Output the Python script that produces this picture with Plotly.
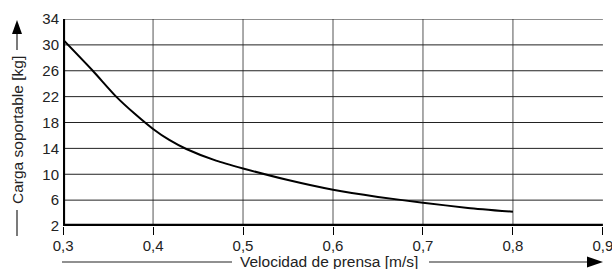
import plotly.graph_objects as go

# Data
velocidad = [0.30, 0.333, 0.359, 0.38, 0.40, 0.418, 0.437, 0.47, 0.50, 0.55, 0.60, 0.65, 0.70, 0.75, 0.80]
carga = [30.8, 26.0, 22.0, 19.3, 17.0, 15.3, 13.9, 12.1, 10.9, 9.1, 7.6, 6.5, 5.6, 4.8, 4.2]
x_ticks = [0.3, 0.4, 0.5, 0.6, 0.7, 0.8, 0.9]
x_ticktext = ["0,3", "0,4", "0,5", "0,6", "0,7", "0,8", "0,9"]
y_ticks = [2, 6, 10, 14, 18, 22, 26, 30, 34]
x_grid = [0.4, 0.5, 0.6, 0.7, 0.8]
y_grid = [6, 10, 14, 18, 22, 26, 30, 34]

W, H = 612, 269
L, R, T, B = 63, 9, 19, 43
PW, PH = W - L - R, H - T - B

def px(x):
    return (x - L) / PW

def py(y):
    return (H - B - y) / PH

FONT = "Liberation Sans, Arial, Helvetica, sans-serif"
TXT = "#222222"

fig = go.Figure()
fig.add_trace(go.Scatter(x=velocidad, y=carga, mode="lines",
                         line=dict(color="black", width=2, shape="spline", smoothing=0.6),
                         hoverinfo="skip", showlegend=False, cliponaxis=False))

shapes = []
for gx in x_grid:
    shapes.append(dict(type="line", xref="x", yref="y", x0=gx, x1=gx, y0=2, y1=34,
                       line=dict(color="#555555", width=1), layer="below"))
for gy in y_grid:
    shapes.append(dict(type="line", xref="x", yref="y", x0=0.3, x1=0.9, y0=gy, y1=gy,
                       line=dict(color="#222222", width=1), layer="below"))
# thick axes
shapes.append(dict(type="line", xref="x", yref="y", x0=0.3, x1=0.9, y0=2, y1=2,
                   line=dict(color="black", width=4.5)))
shapes.append(dict(type="line", xref="x", yref="y", x0=0.3, x1=0.3, y0=2, y1=34,
                   line=dict(color="black", width=4)))

# y-title decorations
shapes.append(dict(type="line", xref="paper", yref="paper", x0=px(17), x1=px(17),
                   y0=py(210), y1=py(236), line=dict(color=TXT, width=1.2)))
shapes.append(dict(type="line", xref="paper", yref="paper", x0=px(17), x1=px(17),
                   y0=py(32), y1=py(50), line=dict(color=TXT, width=1.2)))
shapes.append(dict(type="path", xref="paper", yref="paper",
                   path=f"M {px(12)} {py(34)} L {px(22)} {py(34)} L {px(17)} {py(20)} Z",
                   fillcolor="black", line=dict(color="black", width=0)))
# x-title decorations
shapes.append(dict(type="line", xref="paper", yref="paper", x0=px(62), x1=px(232),
                   y0=py(262), y1=py(262), line=dict(color=TXT, width=1.2)))
shapes.append(dict(type="line", xref="paper", yref="paper", x0=px(429), x1=px(590),
                   y0=py(262), y1=py(262), line=dict(color=TXT, width=1.2)))
shapes.append(dict(type="path", xref="paper", yref="paper",
                   path=f"M {px(587)} {py(256.5)} L {px(587)} {py(267.5)} L {px(603)} {py(262)} Z",
                   fillcolor="black", line=dict(color="black", width=0)))

annotations = [
    dict(text="Carga soportable [kg]", xref="paper", yref="paper", x=px(17), y=py(130),
         textangle=-90, showarrow=False, font=dict(family=FONT, size=15.5, color=TXT),
         xanchor="center", yanchor="middle"),
    dict(text="Velocidad de prensa [m/s]", xref="paper", yref="paper", x=px(329), y=py(261),
         showarrow=False, font=dict(family=FONT, size=15.5, color=TXT),
         xanchor="center", yanchor="middle"),
]

fig.update_layout(
    width=W, height=H,
    margin=dict(l=L, r=R, t=T, b=B, pad=0, autoexpand=False),
    paper_bgcolor="white", plot_bgcolor="white",
    shapes=shapes, annotations=annotations,
    font=dict(family=FONT, size=14, color=TXT),
    xaxis=dict(range=[0.2999, 0.9001], tickvals=x_ticks, ticktext=x_ticktext, showgrid=False,
               zeroline=False, showline=False, ticks="outside", ticklen=8, tickwidth=1,
               tickcolor="black", automargin=False, ticklabeloverflow="allow",
               ticklabelstandoff=-2,
               tickfont=dict(family=FONT, size=15, color=TXT)),
    yaxis=dict(range=[2, 34], tickvals=y_ticks, showgrid=False, zeroline=False,
               showline=False, ticks="", ticklabelstandoff=3, automargin=False,
               tickfont=dict(family=FONT, size=15, color=TXT)),
)

fig.write_html("out.html", config={"displayModeBar": False},
               post_script="document.body.style.margin='0';document.body.style.overflow='hidden';")
